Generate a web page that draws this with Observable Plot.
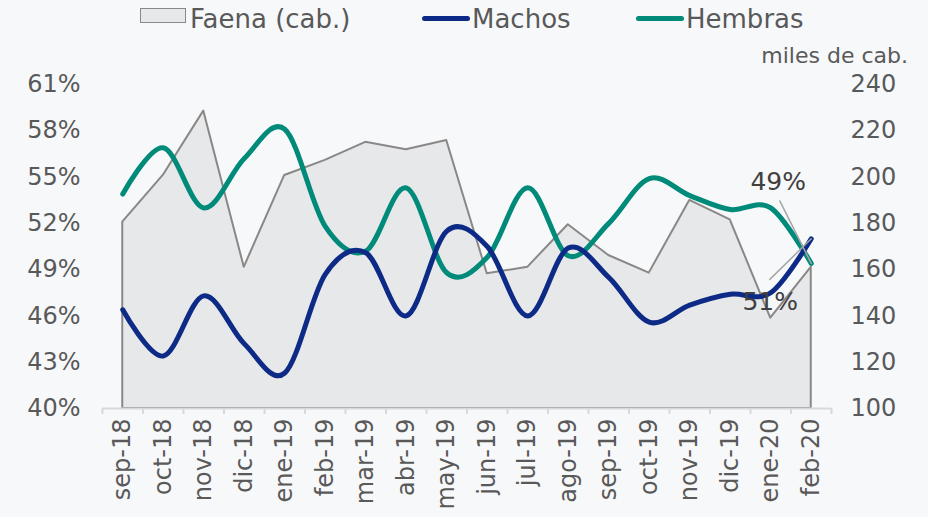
<!DOCTYPE html>
<html><head><meta charset="utf-8">
<script src="https://cdn.jsdelivr.net/npm/d3@7"></script>
<script src="https://cdn.jsdelivr.net/npm/@observablehq/plot@0.6"></script>
<style>
body{margin:0;background:#f7f8fa;}
#wrap{position:relative;width:928px;height:517px;overflow:hidden;background:#f7f8fa;font-family:"DejaVu Sans",sans-serif;color:#595959;}
#chart{position:absolute;left:0;top:0;}
.lg{position:absolute;}
.lgtext{position:absolute;font-size:26px;line-height:30px;top:4px;color:#595959;white-space:nowrap;}
#unit{position:absolute;right:20px;top:43px;font-size:22px;color:#595959;white-space:nowrap;}
</style>
</head><body>
<div id="wrap">
  <div id="chart"></div>
  <div id="legend"></div>
  <div id="unit">miles de cab.</div>
</div>
<script>
const months = ["sep-18","oct-18","nov-18","dic-18","ene-19","feb-19","mar-19","abr-19","may-19","jun-19","jul-19","ago-19","sep-19","oct-19","nov-19","dic-19","ene-20","feb-20"];
const faena = [180.5,200.7,228.5,161,200.7,207.2,215,211.8,215.8,158.2,161,179.4,166.1,158.5,189.9,181.5,139,161];
const machos = [46.4,43.4,47.3,44.2,42.3,48.7,50.1,46.0,51.5,50.5,46.0,50.4,48.5,45.6,46.7,47.4,47.5,51.0];
const hembras = [53.9,56.9,53.0,56.2,58.1,51.8,50.2,54.3,48.8,49.8,54.3,49.9,52.0,54.9,53.8,52.9,53.0,49.4];
const leftTicks = [40,43,46,49,52,55,58,61];
const rightTicks = [100,120,140,160,180,200,220,240];
const seriesNames = ["Faena (cab.)","Machos","Hembras"];
const endLabels = ["49%","51%"];

const colors = {faenaFill:"#e7e8ea", faenaStroke:"#8a8787", machos:"#0d2b86", hembras:"#008a7a"};
// map right axis (cab.) onto left axis (%)
const toLeft = v => leftTicks[0] + (v - rightTicks[0]) * (leftTicks[leftTicks.length-1]-leftTicks[0]) / (rightTicks[rightTicks.length-1]-rightTicks[0]);
const toRight = p => rightTicks[0] + (p - leftTicks[0]) * (rightTicks[rightTicks.length-1]-rightTicks[0]) / (leftTicks[leftTicks.length-1]-leftTicks[0]);

const rows = months.map((m,i) => ({i, m, f: toLeft(faena[i]), ma: machos[i], h: hembras[i]}));
const last = rows[rows.length-1];
const bounds = d3.range(-0.5, months.length, 1);

const leaderShape = {draw(ctx, l){ ctx.moveTo(0,0); ctx.lineTo(0,-l); }};

const plot = Plot.plot({
  width: 928, height: 517,
  marginLeft: 102, marginRight: 97, marginTop: 84, marginBottom: 109,
  style: {background:"transparent", fontFamily:"DejaVu Sans, sans-serif", fontSize:"22px", color:"#595959", overflow:"visible"},
  x: {type:"linear", domain:[-0.5, months.length-0.5], label: null},
  y: {domain:[leftTicks[0], leftTicks[leftTicks.length-1]], label: null},
  marks: [
    Plot.area(rows, {x1:"i", y1: () => leftTicks[0], y2:"f", fill: colors.faenaFill, stroke: colors.faenaStroke, strokeWidth: 2}),
    Plot.ruleY([leftTicks[0]], {stroke:"#d9d9d9", strokeWidth:2}),
    Plot.axisX({ticks: bounds, tickFormat: () => "", tickSize: 6, stroke:"#d9d9d9", strokeWidth:2, label: null}),
    Plot.axisX({ticks: d3.range(months.length), tickFormat: i => months[i], tickSize: 0, tickPadding: 10, tickRotate: -90, fontSize: 24, label: null, fill:"#595959"}),
    Plot.axisY({anchor:"left", ticks: leftTicks, tickFormat: d => d + "%", tickSize: 0, tickPadding: 22, fontSize: 24, label: null, fill:"#595959"}),
    Plot.axisY({anchor:"right", ticks: leftTicks, tickFormat: d => Math.round(toRight(d)), tickSize: 0, tickPadding: 19, fontSize: 24, label: null, fill:"#595959"}),
    Plot.line(rows, {x:"i", y:"h", stroke: colors.hembras, strokeWidth: 5, curve:"cardinal"}),
    Plot.line(rows, {x:"i", y:"ma", stroke: colors.machos, strokeWidth: 5, curve:"cardinal"}),
    Plot.vector([last], {x:"i", y:"h", length: 70, rotate: -26.7, anchor:"start", shape: leaderShape, stroke:"#a6a6a6", strokeWidth: 1.5}),
    Plot.vector([last], {x:"i", y:"ma", length: 58, rotate: -134.4, anchor:"start", shape: leaderShape, stroke:"#a6a6a6", strokeWidth: 1.5}),
    Plot.text([last], {x:"i", y:"h", text: () => endLabels[0], dx: -33, dy: -81, fontSize: 25, fill:"#404040"}),
    Plot.text([last], {x:"i", y:"ma", text: () => endLabels[1], dx: -41, dy: 63, fontSize: 25, fill:"#404040"})
  ]
});
document.getElementById("chart").appendChild(plot);

// legend
const lg = document.getElementById("legend");
const items = [
  {name: seriesNames[0], sw: {left:140, top:8, width:44, height:13, background: colors.faenaFill, border:"1.5px solid "+colors.faenaStroke}, tx: 190},
  {name: seriesNames[1], sw: {left:422, top:16, width:48, height:5, background: colors.machos, borderRadius:"3px"}, tx: 472},
  {name: seriesNames[2], sw: {left:636, top:16, width:48, height:5, background: colors.hembras, borderRadius:"3px"}, tx: 686}
];
items.forEach(it => {
  const s = document.createElement("div"); s.className = "lg";
  Object.entries(it.sw).forEach(([k,v]) => s.style[k] = typeof v === "number" ? v + "px" : v);
  lg.appendChild(s);
  const t = document.createElement("div"); t.className = "lgtext"; t.textContent = it.name; t.style.left = it.tx + "px";
  lg.appendChild(t);
});
</script>
</body></html>
